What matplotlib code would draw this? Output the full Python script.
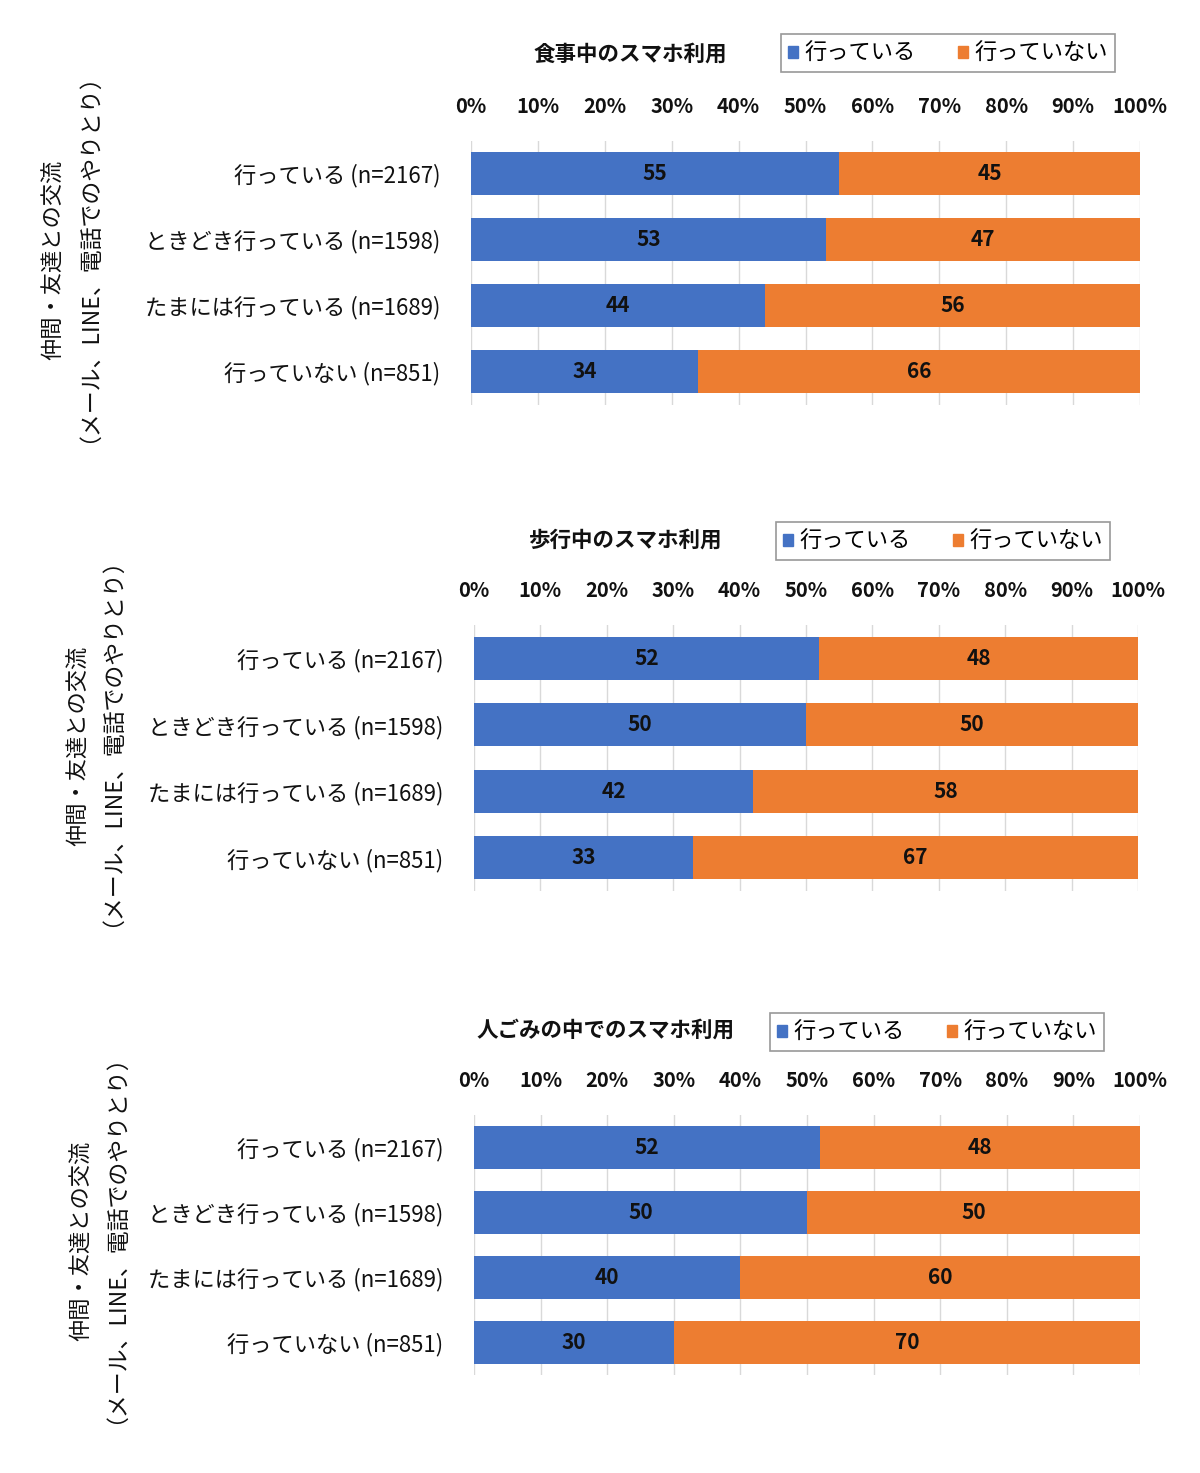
import matplotlib
matplotlib.use("Agg")
import matplotlib.pyplot as plt
from matplotlib.patches import Patch
import numpy as np

plt.rcParams['font.family'] = ['Noto Sans CJK JP', 'DejaVu Sans']

categories = ["行っている (n=2167)", "ときどき行っている (n=1598)",
              "たまには行っている (n=1689)", "行っていない (n=851)"]
titles = ["食事中のスマホ利用", "歩行中のスマホ利用", "人ごみの中でのスマホ利用"]
series_names = ["行っている", "行っていない"]
yes_values = [[55, 53, 44, 34], [52, 50, 42, 33], [52, 50, 40, 30]]
no_values = [[45, 47, 56, 66], [48, 50, 58, 67], [48, 50, 60, 70]]
xticks = [0, 10, 20, 30, 40, 50, 60, 70, 80, 90, 100]
xtick_labels = [f"{t}%" for t in xticks]
ylabel_line1 = "仲間・友達との交流"
ylabel_line2 = "（メール、LINE、電話でのやりとり）"

BLUE = "#4472C4"
ORANGE = "#ED7D31"

W, H = 1200, 1473
fig = plt.figure(figsize=(12, 14.73), dpi=100)

# pixel layout per panel:
# (left, right, top, bottom, title xy, legend xy, ylabel1 xy, ylabel2 xy)
panels = [
    (471, 1140, 140.5, 404.5, (630, 54), (948, 53), (53, 260), (77, 247)),
    (474, 1138, 625, 891, (626, 540), (943, 541), (78, 746), (100, 731)),
    (474, 1140, 1115, 1375, (605, 1030), (937, 1032), (81, 1241), (104, 1228)),
]

def fx(x):
    return x / W

def fy(y):
    return 1 - y / H

for i, (l, r, t, b, tpos, lpos, yl1, yl2) in enumerate(panels):
    ax = fig.add_axes([fx(l), fy(b), (r - l) / W, (b - t) / H])
    y = np.arange(len(categories))
    yes = np.array(yes_values[i])
    no = np.array(no_values[i])
    ax.barh(y, yes, height=0.65, color=BLUE, zorder=3)
    ax.barh(y, no, left=yes, height=0.65, color=ORANGE, zorder=3)
    for j in range(len(categories)):
        ax.text(yes[j] / 2, y[j], str(yes[j]), ha='center', va='center',
                fontsize=15, fontweight='bold', color='#111111', zorder=4)
        ax.text(yes[j] + no[j] / 2, y[j], str(no[j]), ha='center', va='center',
                fontsize=15, fontweight='bold', color='#111111', zorder=4)
    ax.set_xlim(0, 100)
    ax.set_ylim(len(categories) - 0.5, -0.5)
    ax.set_yticks(y)
    ax.set_yticklabels(categories, fontsize=16)
    ax.set_xticks(xticks)
    ax.set_xticklabels(xtick_labels, fontsize=14.5, fontweight='bold')
    ax.xaxis.tick_top()
    ax.tick_params(axis='x', length=0, pad=17, colors='#111111')
    ax.tick_params(axis='y', length=0, pad=22, colors='#111111')
    ax.grid(axis='x', color='#D9D9D9', linewidth=1, zorder=0)
    for s in ax.spines.values():
        s.set_visible(False)

    fig.text(fx(tpos[0]), fy(tpos[1]), titles[i], ha='center', va='center',
             fontsize=15.5, fontweight='bold', color='#111111')
    leg = fig.legend(handles=[Patch(color=BLUE, label=series_names[0]),
                              Patch(color=ORANGE, label=series_names[1])],
                     loc='center', bbox_to_anchor=(fx(lpos[0]), fy(lpos[1])),
                     ncol=2, fontsize=16, frameon=True, fancybox=False,
                     edgecolor='#7F7F7F', handlelength=0.45, handleheight=0.45,
                     handletextpad=0.3, columnspacing=1.9, borderpad=0.32,
                     borderaxespad=0, labelspacing=0.2)
    leg.get_frame().set_linewidth(1.2)
    fig.text(fx(yl1[0]), fy(yl1[1]), ylabel_line1, rotation=90, ha='center',
             va='center', fontsize=16, color='#111111')
    fig.text(fx(yl2[0]), fy(yl2[1]), ylabel_line2, rotation=90, ha='center',
             va='center', fontsize=16.5, color='#111111')

fig.savefig("out.png", dpi=100)
